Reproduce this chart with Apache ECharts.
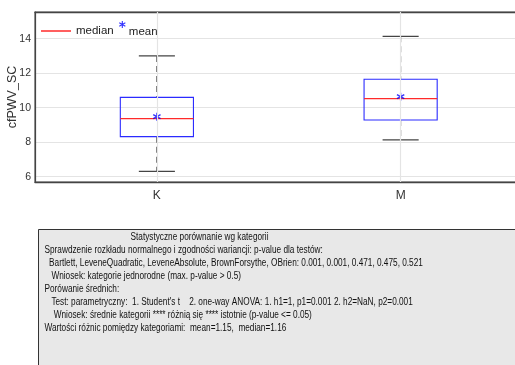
<!DOCTYPE html>
<html>
<head>
<meta charset="utf-8">
<script src="https://cdn.jsdelivr.net/npm/echarts@6/dist/echarts.min.js"></script>
<style>
html,body{margin:0;padding:0;background:#fff;}
#chart{width:515px;height:365px;}
</style>
</head>
<body>
<div id="chart"></div>
<script>
// ---- data ----
const categories = ['K', 'M'];
const whiskerLow = [6.31, 8.13];
const q1 = [8.32, 9.29];
const median = [9.36, 10.52];
const q3 = [10.60, 11.65];
const whiskerHigh = [13.0, 14.14];
const mean = [9.48, 10.64];
const yName = 'cfPWV_SC';
const statsLines = [
  'Statystyczne porównanie wg kategorii',
  'Sprawdzenie rozkładu normalnego i zgodności wariancji: p-value dla testów:',
  '  Bartlett, LeveneQuadratic, LeveneAbsolute, BrownForsythe, OBrien: 0.001, 0.001, 0.471, 0.475, 0.521',
  '   Wniosek: kategorie jednorodne (max. p-value > 0.5)',
  'Porówanie średnich:',
  '   Test: parametryczny:  1. Student\'s t    2. one-way ANOVA: 1. h1=1, p1=0.001 2. h2=NaN, p2=0.001',
  '    Wniosek: średnie kategorii **** różnią się **** istotnie (p-value <= 0.05)',
  'Wartości różnic pomiędzy kategoriami:  mean=1.15,  median=1.16'
];

const FONT = '"Liberation Sans", Arial, sans-serif';
const ASTER = 'path://M4.2,0 L5.8,0 L5.8,10 L4.2,10 Z M1.07,1.81 L9.73,6.81 L8.93,8.19 L0.27,3.19 Z M8.93,1.81 L9.73,3.19 L1.07,8.19 L0.27,6.81 Z';

const boxData = categories.map((c, i) => [i, whiskerLow[i], q1[i], median[i], q3[i], whiskerHigh[i]]);
const meanData = categories.map((c, i) => [i, mean[i]]);

const chart = echarts.init(document.getElementById('chart'), null, {renderer: 'canvas'});

const dark = '#3a3a3a';

const option = {
  backgroundColor: '#fff',
  animation: false,
  textStyle: {fontFamily: FONT},
  grid: {left: 35, top: 12, width: 487.5, height: 170, show: true, borderColor: '#555', borderWidth: 1.2,
         backgroundColor: 'transparent', containLabel: false, outerBoundsMode: 'none'},
  legend: [
    {
      data: [{name: 'median', icon: 'rect'}],
      left: 41, top: 25, padding: 0,
      itemWidth: 30, itemHeight: 1.5,
      textStyle: {fontFamily: FONT, fontSize: 11.5, color: '#222'}
    },
    {
      data: [{name: 'mean', icon: ASTER}],
      left: 119, top: 21, padding: 0,
      itemWidth: 7, itemHeight: 7,
      formatter: '{a|{name}}',
      textStyle: {fontFamily: FONT, fontSize: 11.5, color: '#222',
        rich: {a: {fontFamily: FONT, fontSize: 11.5, color: '#222', padding: [14, 0, 0, -2]}}}
    }
  ],
  xAxis: [
    {
      type: 'category', data: categories, position: 'bottom',
      axisLine: {lineStyle: {color: '#444', width: 1.3}},
      axisTick: {alignWithLabel: true, inside: true, length: 7, lineStyle: {color: '#333'}},
      axisLabel: {fontFamily: FONT, fontSize: 12, color: '#333', margin: 8},
      splitLine: {show: false}
    },
    {
      type: 'category', data: categories, position: 'top',
      axisLine: {lineStyle: {color: '#444', width: 1.3}},
      axisTick: {alignWithLabel: true, inside: true, length: 7, lineStyle: {color: '#333'}},
      axisLabel: {show: false},
      splitLine: {show: false}
    }
  ],
  yAxis: {
    type: 'value', min: 5.69, max: 15.55, splitNumber: 5,
    name: yName, nameLocation: 'middle', nameGap: 16, nameMoveOverlap: false,
    nameTextStyle: {fontFamily: FONT, fontSize: 12.5, color: '#333'},
    axisLine: {show: true, lineStyle: {color: '#444', width: 1.2}},
    axisTick: {inside: true, length: 5, lineStyle: {color: '#333'}},
    axisLabel: {
      fontFamily: FONT, fontSize: 10.5, color: '#333', margin: 4,
      showMinLabel: false, showMaxLabel: false,
      formatter: v => (Math.abs(v - Math.round(v)) < 1e-6 ? String(Math.round(v)) : '')
    },
    splitLine: {show: true, lineStyle: {color: '#e4e4e4', width: 1.2}}
  },
  series: [
    {
      name: 'grid-v', type: 'line', data: [], z: 1, silent: true,
      markLine: {
        silent: true, symbol: 'none', label: {show: false},
        lineStyle: {color: '#e4e4e4', type: 'solid', width: 1.2},
        data: categories.map(c => ({xAxis: c}))
      }
    },
    {
      name: 'median', type: 'custom', z: 3,
      itemStyle: {color: '#ff2a2a'},
      encode: {x: 0, y: [1, 2, 3, 4, 5]},
      data: boxData,
      renderItem: function (params, api) {
        const x = api.value(0);
        const pLo = api.coord([x, api.value(1)]);
        const pQ1 = api.coord([x, api.value(2)]);
        const pMed = api.coord([x, api.value(3)]);
        const pQ3 = api.coord([x, api.value(4)]);
        const pHi = api.coord([x, api.value(5)]);
        const band = api.size([1, 0])[0];
        const bw = band * 0.30, cw = band * 0.148;
        const cx = pMed[0];
        return {
          type: 'group',
          children: [
            {type: 'line', shape: {x1: cx, y1: pHi[1], x2: cx, y2: pQ3[1]}, style: {stroke: dark, lineWidth: 1.1, lineDash: [6, 4]}},
            {type: 'line', shape: {x1: cx, y1: pQ1[1], x2: cx, y2: pLo[1]}, style: {stroke: dark, lineWidth: 1.1, lineDash: [6, 4]}},
            {type: 'line', shape: {x1: cx - cw / 2, y1: pHi[1], x2: cx + cw / 2, y2: pHi[1]}, style: {stroke: '#444', lineWidth: 1.3}},
            {type: 'line', shape: {x1: cx - cw / 2, y1: pLo[1], x2: cx + cw / 2, y2: pLo[1]}, style: {stroke: '#444', lineWidth: 1.3}},
            {type: 'rect', shape: {x: cx - bw / 2, y: pQ3[1], width: bw, height: pQ1[1] - pQ3[1]}, style: {fill: 'none', stroke: '#2b2bff', lineWidth: 1.1}},
            {type: 'line', shape: {x1: cx - bw / 2, y1: pMed[1], x2: cx + bw / 2, y2: pMed[1]}, style: {stroke: '#ff2a2a', lineWidth: 1.2}}
          ]
        };
      }
    },
    {
      name: 'mean', type: 'scatter', z: 4,
      symbol: ASTER, symbolSize: 8,
      itemStyle: {color: '#0000ff'},
      data: meanData
    }
  ],
  graphic: [
    {
      type: 'group', left: 38, top: 229,
      children: [
        {type: 'rect', shape: {x: 0, y: 0, width: 500, height: 150}, style: {fill: '#e8e8e8', stroke: '#333', lineWidth: 1}},
      ].concat(statsLines.map((t, i) => ({
        type: 'text',
        x: i === 0 ? 92 : 6,
        y: 8 + i * 13,
        scaleX: 0.825,
        style: {text: t, font: '10px ' + FONT, fill: '#111', textVerticalAlign: 'middle'}
      })))
    }
  ]
};
chart.setOption(option);
</script>
</body>
</html>
